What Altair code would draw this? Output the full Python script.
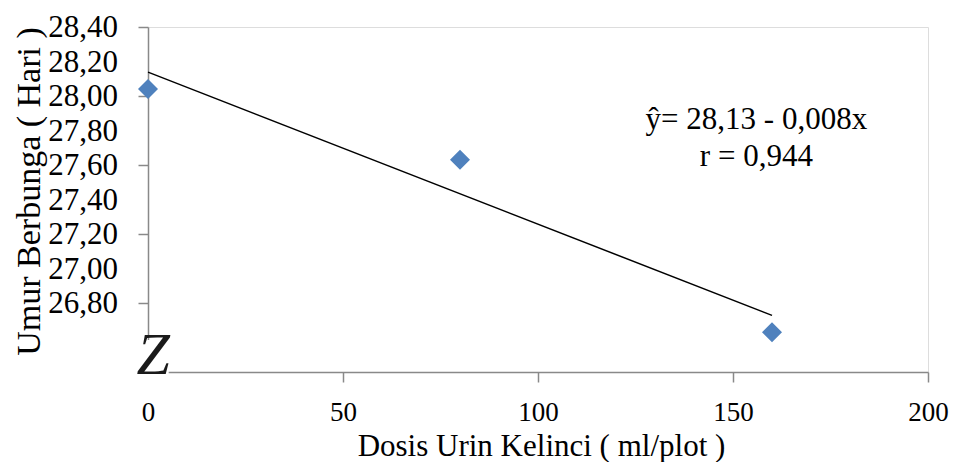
import altair as alt
import pandas as pd

# Data
dosis = [0, 80, 160]
umur = [28.04, 27.63, 26.63]
x_ticks = [0, 50, 100, 150, 200]
y_ticks = [26.4, 26.6, 26.8, 27.0, 27.2, 27.4, 27.6, 27.8, 28.0, 28.2, 28.4]
y_label_vals = [26.8, 27.0, 27.2, 27.4, 27.6, 27.8, 28.0, 28.2, 28.4]
y_label_txt = ["26,80", "27,00", "27,20", "27,40", "27,60", "27,80", "28,00", "28,20", "28,40"]
eq_lines = ["ŷ= 28,13 - 0,008x", "r = 0,944"]
x_title = "Dosis Urin Kelinci ( ml/plot )"
y_title = "Umur Berbunga ( Hari )"

df = pd.DataFrame({"dosis": dosis, "umur": umur})
ylab = pd.DataFrame({"v": y_label_vals, "t": y_label_txt})

FONT = "Liberation Serif"
AX = "#898989"
FS = 31
FSX = 27

yscale = alt.Scale(domain=[26.4, 28.4], nice=False, zero=False)

x_enc = alt.X(
    "dosis:Q",
    scale=alt.Scale(domain=[0, 200], nice=False, zero=False),
    axis=alt.Axis(
        values=x_ticks, title=x_title, grid=False, labelFlush=False, labelOverlap=False,
        domainColor=AX, tickColor=AX, tickSize=10, domainWidth=1.5, tickWidth=1.5,
        labelFont=FONT, labelFontSize=FSX, labelColor="black",
        labelBaseline="alphabetic", labelPadding=38,
        titleFont=FONT, titleFontSize=FS, titleFontWeight="normal", titleColor="black",
        titleBaseline="alphabetic", titleAlign="center", titleX=393, titleY=83,
    ),
)
y_enc = alt.Y(
    "umur:Q",
    scale=yscale,
    axis=alt.Axis(
        values=y_ticks, title=y_title, grid=False, labels=False,
        domainColor=AX, tickColor=AX, tickSize=10, domainWidth=1.5, tickWidth=1.5,
        titleFont=FONT, titleFontSize=34, titleFontWeight="normal", titleColor="black",
        titleAngle=-90, titleBaseline="middle", titleAlign="center", titleX=-119, titleY=164,
    ),
)

base = alt.Chart(df)

points = base.mark_point(shape="diamond", filled=True, size=400, color="#4F81BD", opacity=1).encode(
    x=x_enc, y=y_enc
)

reg = base.transform_regression("dosis", "umur").mark_line(color="black", strokeWidth=1.5).encode(
    x="dosis:Q", y="umur:Q"
)

ylabels = alt.Chart(ylab).mark_text(
    font=FONT, fontSize=FS, align="right", baseline="middle", color="black", dy=1
).encode(x=alt.value(-30), y=alt.Y("v:Q", scale=yscale), text="t:N")

eq = alt.Chart(pd.DataFrame({"a": [0]})).mark_text(
    text=eq_lines, font=FONT, fontSize=FS, align="center", baseline="alphabetic",
    lineHeight=37, color="black",
).encode(x=alt.datum(156), y=alt.datum(27.81))

# axis-break decoration
cover = alt.Chart(pd.DataFrame({"a": [0]})).mark_rect(color="white").encode(
    x=alt.datum(-2.8), x2=alt.datum(5.3), y=alt.datum(26.585), y2=alt.datum(26.33)
)
zmark = alt.Chart(pd.DataFrame({"a": [0]})).mark_text(
    text="Z", font=FONT, fontSize=60, fontStyle="italic",
    align="center", baseline="middle", color="#1a1a1a",
).encode(x=alt.datum(1.3), y=alt.datum(26.49))

chart = alt.layer(points, reg, ylabels, eq, cover, zmark).properties(
    width=780, height=345,
    autosize=alt.AutoSizeParams(type="none"),
    padding={"left": 140, "top": 19, "right": 21, "bottom": 90},
).configure_view(stroke=None).configure(background="white")

chart.save("out.html", embed_options={"renderer": "svg", "actions": False})
